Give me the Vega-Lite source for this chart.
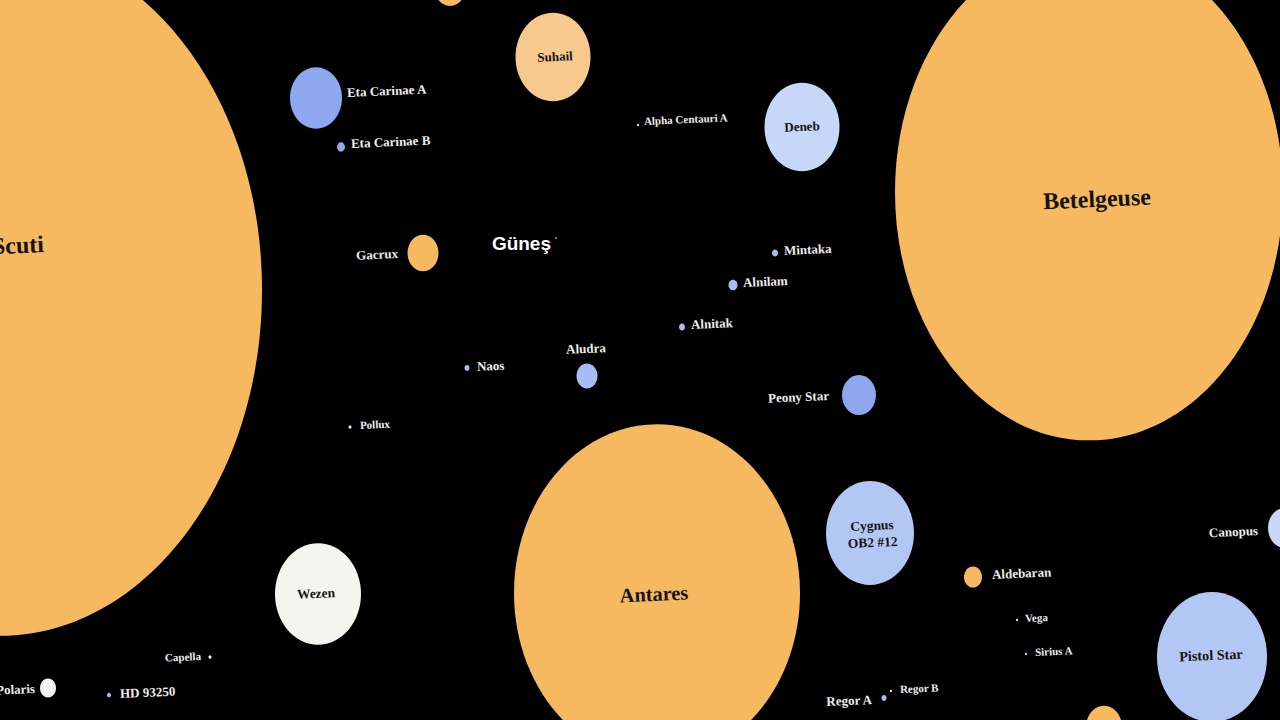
{
  "$schema": "https://vega.github.io/schema/vega-lite/v6.json",
  "width": 1280,
  "height": 720,
  "autosize": {"type": "none"},
  "padding": 0,
  "background": "#000000",
  "config": {"view": {"stroke": null}},
  "data": {
    "values": [
      {"name": "UY Scuti", "x": 0, "y": 290, "diam": 524, "tone": "turuncu", "lx": -2, "ly": 247, "pos": "in"},
      {"name": "Betelgeuse", "x": 1089, "y": 192, "diam": 388, "tone": "turuncu", "lx": 1097, "ly": 200, "pos": "in"},
      {"name": "Antares", "x": 657, "y": 593, "diam": 286, "tone": "turuncu", "lx": 654, "ly": 595, "pos": "in"},
      {"name": "Suhail", "x": 553, "y": 57, "diam": 75, "tone": "açık turuncu", "lx": 555, "ly": 57, "pos": "in"},
      {"name": "Arcturus", "x": 450, "y": -13, "diam": 32, "tone": "turuncu", "lx": 450, "ly": -40, "pos": "none"},
      {"name": "Eta Carinae A", "x": 316, "y": 98, "diam": 52, "tone": "mavi", "lx": 347, "ly": 93, "pos": "right"},
      {"name": "Eta Carinae B", "x": 341, "y": 147, "diam": 8, "tone": "mavi", "lx": 351, "ly": 144, "pos": "right"},
      {"name": "Alpha Centauri A", "x": 638, "y": 125, "diam": 2, "tone": "beyaz", "lx": 644, "ly": 122, "pos": "right"},
      {"name": "Deneb", "x": 802, "y": 127, "diam": 75, "tone": "açık mavi", "lx": 802, "ly": 127, "pos": "in"},
      {"name": "Gacrux", "x": 423, "y": 253, "diam": 31, "tone": "turuncu", "lx": 398, "ly": 254, "pos": "left"},
      {"name": "Güneş", "x": 556, "y": 238, "diam": 1.5, "tone": "beyaz", "lx": 551, "ly": 244, "pos": "sun"},
      {"name": "Mintaka", "x": 775, "y": 253, "diam": 6, "tone": "gök mavi", "lx": 784, "ly": 251, "pos": "right"},
      {"name": "Alnilam", "x": 733, "y": 285, "diam": 9, "tone": "gök mavi", "lx": 743, "ly": 283, "pos": "right"},
      {"name": "Alnitak", "x": 682, "y": 327, "diam": 6, "tone": "gök mavi", "lx": 691, "ly": 325, "pos": "right"},
      {"name": "Aludra", "x": 587, "y": 376, "diam": 21, "tone": "gök mavi", "lx": 586, "ly": 349, "pos": "above"},
      {"name": "Naos", "x": 467, "y": 368, "diam": 5, "tone": "gök mavi", "lx": 477, "ly": 367, "pos": "right"},
      {"name": "Pollux", "x": 350, "y": 427, "diam": 3, "tone": "sarımsı", "lx": 360, "ly": 426, "pos": "right"},
      {"name": "Peony Star", "x": 859, "y": 395, "diam": 34, "tone": "mavi", "lx": 829, "ly": 396, "pos": "left"},
      {"name": "Cygnus\nOB2 #12", "x": 870, "y": 533, "diam": 88, "tone": "orta mavi", "lx": 872, "ly": 526, "pos": "in"},
      {"name": "Wezen", "x": 318, "y": 594, "diam": 86, "tone": "beyaz", "lx": 316, "ly": 594, "pos": "in"},
      {"name": "Canopus", "x": 1285, "y": 528, "diam": 34, "tone": "açık mavi", "lx": 1258, "ly": 531, "pos": "left"},
      {"name": "Aldebaran", "x": 973, "y": 577, "diam": 18, "tone": "turuncu", "lx": 992, "ly": 575, "pos": "right"},
      {"name": "Vega", "x": 1017, "y": 620, "diam": 2, "tone": "beyaz", "lx": 1025, "ly": 619, "pos": "right"},
      {"name": "Sirius A", "x": 1026, "y": 654, "diam": 2, "tone": "beyaz", "lx": 1035, "ly": 653, "pos": "right"},
      {"name": "Pistol Star", "x": 1212, "y": 657, "diam": 110, "tone": "orta mavi", "lx": 1211, "ly": 656, "pos": "in"},
      {"name": "Regor A", "x": 884, "y": 698, "diam": 5, "tone": "gök mavi", "lx": 872, "ly": 700, "pos": "left"},
      {"name": "Regor B", "x": 891, "y": 691, "diam": 2, "tone": "beyaz", "lx": 900, "ly": 690, "pos": "right"},
      {"name": "Mira", "x": 1104, "y": 727, "diam": 36, "tone": "turuncu", "lx": 1104, "ly": 760, "pos": "none"},
      {"name": "Polaris", "x": 48, "y": 688, "diam": 16, "tone": "beyaz", "lx": 35, "ly": 689, "pos": "left"},
      {"name": "Capella", "x": 210, "y": 657, "diam": 3, "tone": "beyaz", "lx": 201, "ly": 657, "pos": "left"},
      {"name": "HD 93250", "x": 109, "y": 695, "diam": 4, "tone": "gök mavi", "lx": 120, "ly": 694, "pos": "right"}
    ]
  },
  "encoding": {
    "x": {"field": "x", "type": "quantitative", "scale": {"domain": [0, 1280], "nice": false, "zero": false}, "axis": null},
    "y": {"field": "y", "type": "quantitative", "scale": {"domain": [720, 0], "nice": false, "zero": false}, "axis": null}
  },
  "layer": [
    {
      "transform": [{"filter": "datum.name !== 'UY Scuti' && datum.name !== 'Betelgeuse'"}],
      "mark": {"type": "point", "filled": true, "opacity": 1, "strokeWidth": 0, "shape": "M -1 0 A 1 1.18 0 1 0 1 0 A 1 1.18 0 1 0 -1 0 Z"},
      "encoding": {
        "size": {"field": "diam", "type": "quantitative", "scale": {"type": "pow", "exponent": 2, "domain": [0, 1000], "range": [0, 1000000]}, "legend": null},
        "color": {"field": "tone", "type": "nominal", "scale": {"domain": ["turuncu", "açık turuncu", "mavi", "gök mavi", "orta mavi", "açık mavi", "beyaz", "sarımsı"], "range": ["#F7B95F", "#F8C98F", "#8EA7EF", "#A6BCF3", "#B3C7F4", "#C6D7F7", "#F5F5F0", "#EEE6C6"]}, "legend": null}
      }
    },
    {
      "transform": [{"filter": "datum.name === 'Betelgeuse'"}],
      "mark": {"type": "point", "filled": true, "opacity": 1, "strokeWidth": 0, "shape": "M -1 0 A 1 1.28 0 1 0 1 0 A 1 1.28 0 1 0 -1 0 Z"},
      "encoding": {
        "size": {"field": "diam", "type": "quantitative", "scale": {"type": "pow", "exponent": 2, "domain": [0, 1000], "range": [0, 1000000]}, "legend": null},
        "color": {"field": "tone", "type": "nominal", "legend": null}
      }
    },
    {
      "transform": [{"filter": "datum.name === 'UY Scuti'"}],
      "mark": {"type": "point", "filled": true, "opacity": 1, "strokeWidth": 0, "shape": "M -1 0 A 1 1.32 0 1 0 1 0 A 1 1.32 0 1 0 -1 0 Z"},
      "encoding": {
        "size": {"field": "diam", "type": "quantitative", "scale": {"type": "pow", "exponent": 2, "domain": [0, 1000], "range": [0, 1000000]}, "legend": null},
        "color": {"field": "tone", "type": "nominal", "legend": null}
      }
    },
    {
      "transform": [{"filter": "datum.pos === 'in'"}],
      "mark": {"type": "text", "font": "Liberation Serif", "fontWeight": "bold", "color": "#141414", "align": "center", "baseline": "middle", "angle": -2.5, "lineBreak": "\n", "lineHeight": 17},
      "encoding": {
        "x": {"field": "lx", "type": "quantitative"},
        "y": {"field": "ly", "type": "quantitative"},
        "text": {"field": "name"},
        "size": {"field": "diam", "type": "quantitative", "scale": {"type": "linear", "domain": [75, 390], "range": [13, 24], "clamp": true}, "legend": null}
      }
    },
    {
      "transform": [{"filter": "datum.pos === 'right'"}],
      "mark": {"type": "text", "font": "Liberation Serif", "fontWeight": "bold", "color": "#EDEDED", "align": "left", "baseline": "middle", "angle": -2.5},
      "encoding": {
        "x": {"field": "lx", "type": "quantitative"},
        "y": {"field": "ly", "type": "quantitative"},
        "text": {"field": "name"},
        "size": {"field": "diam", "type": "quantitative", "scale": {"type": "threshold", "domain": [4], "range": [11, 13]}, "legend": null}
      }
    },
    {
      "transform": [{"filter": "datum.pos === 'left'"}],
      "mark": {"type": "text", "font": "Liberation Serif", "fontWeight": "bold", "color": "#EDEDED", "align": "right", "baseline": "middle", "angle": -2.5},
      "encoding": {
        "x": {"field": "lx", "type": "quantitative"},
        "y": {"field": "ly", "type": "quantitative"},
        "text": {"field": "name"},
        "size": {"field": "diam", "type": "quantitative", "scale": {"type": "threshold", "domain": [4], "range": [11, 13]}, "legend": null}
      }
    },
    {
      "transform": [{"filter": "datum.pos === 'above'"}],
      "mark": {"type": "text", "font": "Liberation Serif", "fontWeight": "bold", "color": "#EDEDED", "align": "center", "baseline": "middle", "angle": -2.5, "fontSize": 13},
      "encoding": {
        "x": {"field": "lx", "type": "quantitative"},
        "y": {"field": "ly", "type": "quantitative"},
        "text": {"field": "name"}
      }
    },
    {
      "transform": [{"filter": "datum.pos === 'sun'"}],
      "mark": {"type": "text", "font": "Liberation Sans", "fontWeight": "bold", "color": "#FFFFFF", "align": "right", "baseline": "middle", "fontSize": 19},
      "encoding": {
        "x": {"field": "lx", "type": "quantitative"},
        "y": {"field": "ly", "type": "quantitative"},
        "text": {"field": "name"}
      }
    }
  ]
}
